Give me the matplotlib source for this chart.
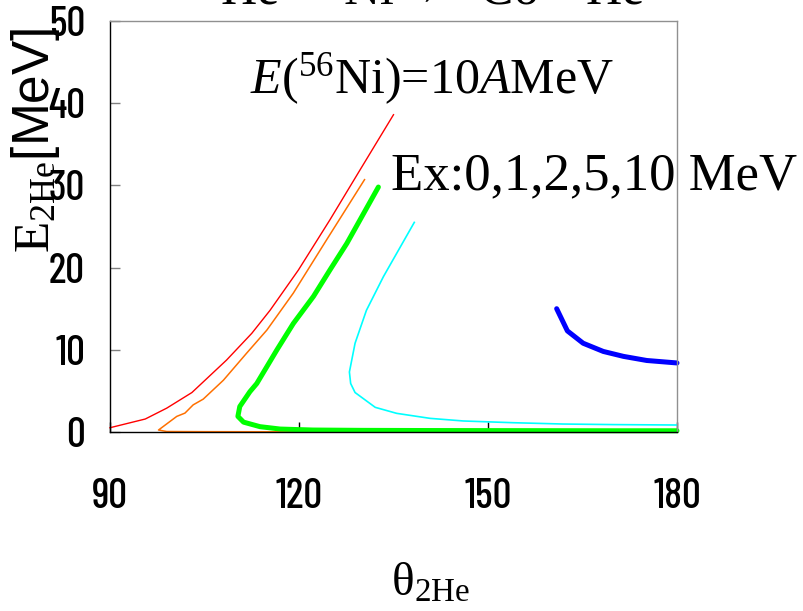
import matplotlib
matplotlib.use("Agg")
import matplotlib.pyplot as plt

plt.rcParams['mathtext.fontset'] = 'custom'
plt.rcParams['mathtext.rm'] = 'Liberation Serif'
plt.rcParams['mathtext.it'] = 'Liberation Serif:italic'
plt.rcParams['mathtext.bf'] = 'Liberation Serif:bold'
plt.rcParams['mathtext.sf'] = 'Liberation Sans'

# ---- data (theta_2He [deg], E_2He [MeV]) for Ex = 0,1,2,5,10 MeV ----
theta_ex0 = [90.0, 95.6, 99.0, 103.0, 108.5, 112.5, 115.4, 119.9, 124.9, 129.7, 135.0]
e_ex0 = [0.52, 1.58, 2.9, 4.8, 8.75, 12.0, 14.8, 19.7, 25.8, 31.9, 38.6]

theta_ex1 = [130.4, 124.4, 119.1, 114.9, 111.7, 108.0, 104.8, 103.2, 101.9, 100.6, 97.7,
             99.0, 105.0, 115.0, 125.0, 140.0, 160.0, 180.0]
e_ex1 = [30.7, 23.4, 16.9, 12.4, 9.6, 6.3, 4.0, 3.3, 2.3, 1.9, 0.24,
         0.06, 0.04, 0.03, 0.02, 0.02, 0.01, 0.01]

theta_ex2 = [132.6, 127.6, 124.9, 122.3, 119.1, 116.5, 113.3, 112.2, 110.6, 110.3, 111.2,
             113.8, 117.0, 122.2, 130.0, 140.0, 150.0, 160.0, 170.0, 180.0]
e_ex2 = [29.8, 22.95, 19.7, 16.5, 13.2, 10.0, 5.9, 4.9, 3.1, 1.9, 1.2,
         0.65, 0.36, 0.24, 0.2, 0.18, 0.17, 0.16, 0.15, 0.15]

theta_ex5 = [138.3, 133.4, 130.7, 128.9, 128.0, 128.2, 128.9, 132.1, 135.5, 140.8,
             146.1, 154.0, 161.9, 170.0, 180.0]
e_ex5 = [25.5, 18.9, 14.8, 10.8, 7.3, 5.9, 4.8, 3.0, 2.27, 1.66,
         1.34, 1.13, 0.97, 0.9, 0.85]

theta_ex10 = [160.9, 162.6, 165.1, 168.3, 171.5, 175.2, 180.0]
e_ex10 = [15.0, 12.3, 10.8, 9.8, 9.2, 8.7, 8.4]

x_ticks = [90, 120, 150, 180]
y_ticks = [0, 10, 20, 30, 40, 50]

fig = plt.figure(figsize=(8.04, 6.11), dpi=100)
ax = fig.add_axes([110/804, 1-432/611, 567/804, 411/611])

ax.plot(theta_ex0, e_ex0, color='#ff0000', lw=1.0, clip_on=False)
ax.plot(theta_ex1, e_ex1, color='#ff7000', lw=1.1, clip_on=False)
ax.plot(theta_ex2, e_ex2, color='#00ff00', lw=3.6, clip_on=False,
        solid_capstyle='round', solid_joinstyle='round')
ax.plot(theta_ex5, e_ex5, color='#00ffff', lw=1.2, clip_on=False)
ax.plot(theta_ex10, e_ex10, color='#0000ff', lw=3.6, clip_on=False,
        solid_capstyle='round', solid_joinstyle='round')

ax.set_xlim(90, 180)
ax.set_ylim(0, 50)
ax.set_xticks(x_ticks)
ax.set_yticks(y_ticks)

tickfont = ['Barlow Condensed', 'Roboto Condensed', 'Liberation Sans']
ax.set_xticklabels([str(v) for v in x_ticks], fontfamily=tickfont, fontsize=30,
                   fontweight=500)
ax.set_yticklabels([str(v) for v in y_ticks], fontfamily=tickfont, fontsize=30,
                   fontweight=500)
ax.tick_params(axis='y', direction='in', length=7, width=1, color='#808080', pad=18)
ax.tick_params(axis='x', direction='in', length=7, width=1, color='black', pad=33)

for s in ['left', 'bottom']:
    ax.spines[s].set_color('black')
    ax.spines[s].set_linewidth(1.0)
for s in ['top', 'right']:
    ax.spines[s].set_color('#909090')
    ax.spines[s].set_linewidth(1.0)

serif = ['Liberation Serif', 'DejaVu Serif']

fig.text(250/804, 1-93/611, r"$E$($^{56}$Ni)=10$A$MeV", fontfamily=serif,
         fontsize=36, ha='left', va='baseline')
fig.text(391/804, 1-189/611, "Ex:0,1,2,5,10 MeV", fontfamily=serif,
         fontsize=38, ha='left', va='baseline')

fig.text(36/804, 1-140/611, r"$\mathrm{E}_{\mathrm{2He}}\mathsf{[MeV]}$",
         rotation=90, ha='center', va='center', fontsize=37)
fig.text(430/804, 1-584/611, r"θ$_{\mathrm{2He}}$", fontfamily=serif,
         fontsize=34, ha='center', va='center')

fig.text(422/804, 1-4/611, r"$^{3}$He+$^{56}$Ni→$^{56}$Co+$^{2}$He",
         fontfamily=serif, fontsize=36, ha='center', va='baseline')

fig.savefig('out.png', dpi=100)
